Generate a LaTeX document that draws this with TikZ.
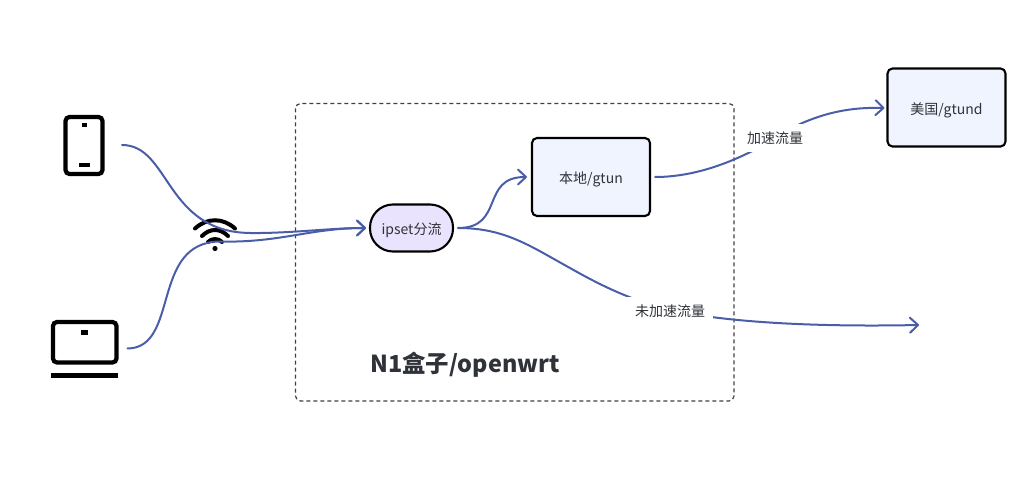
\documentclass[tikz,border=0pt]{standalone}
\usepackage{fontspec}
\setmainfont{Noto Sans CJK SC}
\usetikzlibrary{arrows.meta}
\definecolor{linkc}{HTML}{4A5DA8}
\definecolor{txtc}{HTML}{2F3238}
\definecolor{boxfill}{HTML}{EFF4FE}
\definecolor{pillfill}{HTML}{EAE3FD}
\tikzset{
  x=1pt,y=-1pt,
  lowtext/.style={text height=14.5pt,text depth=0.5pt},
  boxn/.style={draw=black,line width=2.1pt,fill=boxfill,rounded corners=5pt,minimum width=118pt,minimum height=78pt,inner sep=0pt,text=txtc,font=\fontsize{14}{16}\selectfont,lowtext},
  pill/.style={draw=black,line width=2.1pt,fill=pillfill,rounded corners=23pt,minimum width=83pt,minimum height=47pt,inner sep=0pt,text=txtc,font=\fontsize{14}{16}\selectfont,lowtext},
  lbl/.style={fill=white,inner sep=0pt,text=txtc,font=\fontsize{14}{16}\selectfont,text height=13pt,text depth=1pt},
  link/.style={draw=linkc,line width=2pt,line cap=round},
  arr/.style={link,-{Straight Barb[length=8pt,width=15pt,line width=2pt,round]}},
  icon/.style={draw=black,line width=4.2pt},
  iconfill/.style={fill=black,draw=none},
  wifi/.style={draw=black,line width=4pt,line cap=round},
}
\begin{document}
\begin{tikzpicture}
\useasboundingbox (0,0) rectangle (1019,486);
% dashed frame
\draw[draw=black!75,line width=1.2pt,dash pattern=on 4pt off 3pt,rounded corners=5pt] (295.5,103.5) rectangle (734,401);
\node[font=\bfseries\fontsize{23.4}{28}\selectfont,text=txtc,anchor=center] (title) at (465,364.5) {N1盒子/openwrt};
% phone icon
\draw[icon,rounded corners=4pt] (65.5,117) rectangle (102.5,174) ;
\fill[iconfill] (81.5,123) rectangle (87,127.5);
\fill[iconfill] (78.5,163) rectangle (90,167.5);
% laptop icon
\draw[icon,rounded corners=4pt] (53,322) rectangle (116.5,362.5);
\fill[iconfill] (81,330) rectangle (87.5,334.5);
\fill[iconfill] (51,373) rectangle (117.5,378);
% wifi icon
\fill[iconfill] (215,248.5) circle (2.6pt);
\draw[wifi] (195,228.5) .. controls (207,217.5) and (223,217.5) .. (235,228.5);
\draw[wifi] (202,236) .. controls (210,228) and (220,228) .. (228,236);
\draw[wifi] (208,242) .. controls (212,238) and (218,238) .. (222,242);
% nodes
\node[pill] (ipset) at (411.5,228) {ipset分流};
\node[boxn] (local) at (591,177) {本地/gtun};
\node[boxn] (us) at (946.5,107.5) {美国/gtund};
% free ends
\coordinate (phone) at (122,145);
\coordinate (laptop) at (127.5,348.5);
\coordinate (out) at (919,325);
\coordinate (ipin) at ([xshift=-3pt]ipset.west);
\coordinate (ipout) at ([xshift=4pt]ipset.east);
\coordinate (locin) at ([xshift=-4pt]local.west);
\coordinate (locout) at ([xshift=4pt]local.east);
\coordinate (usin) at ([xshift=-2pt,yshift=-0.5pt]us.west);
% connectors
\draw[arr] (phone) .. controls (170,145) and (165,232) .. (250,233) .. controls (290,233.5) and (330,228) .. (ipin);
\draw[arr] (laptop) .. controls (180,348) and (150,242) .. (220,241.5) .. controls (280,243) and (310,228) .. (ipin);
\draw[link] (ipout) .. controls (505,228) and (530,246) .. (570,268) .. controls (600,285) and (630,300) .. (670,310);
\draw[arr] (670,310) .. controls (730,323) and (820,327) .. (out);
\draw[arr] (ipout) .. controls (505,228) and (480,177) .. (locin);
\draw[arr] (locout) .. controls (720,177) and (775,138) .. (800,124) .. controls (825,113) and (850,107) .. (usin);
% labels
\node[lbl,minimum width=55pt,minimum height=28pt] (fast) at (775,138) {加速流量};
\node[lbl,minimum width=86pt,minimum height=26pt] (slow) at (670,310) {未加速流量};
\end{tikzpicture}
\end{document}
